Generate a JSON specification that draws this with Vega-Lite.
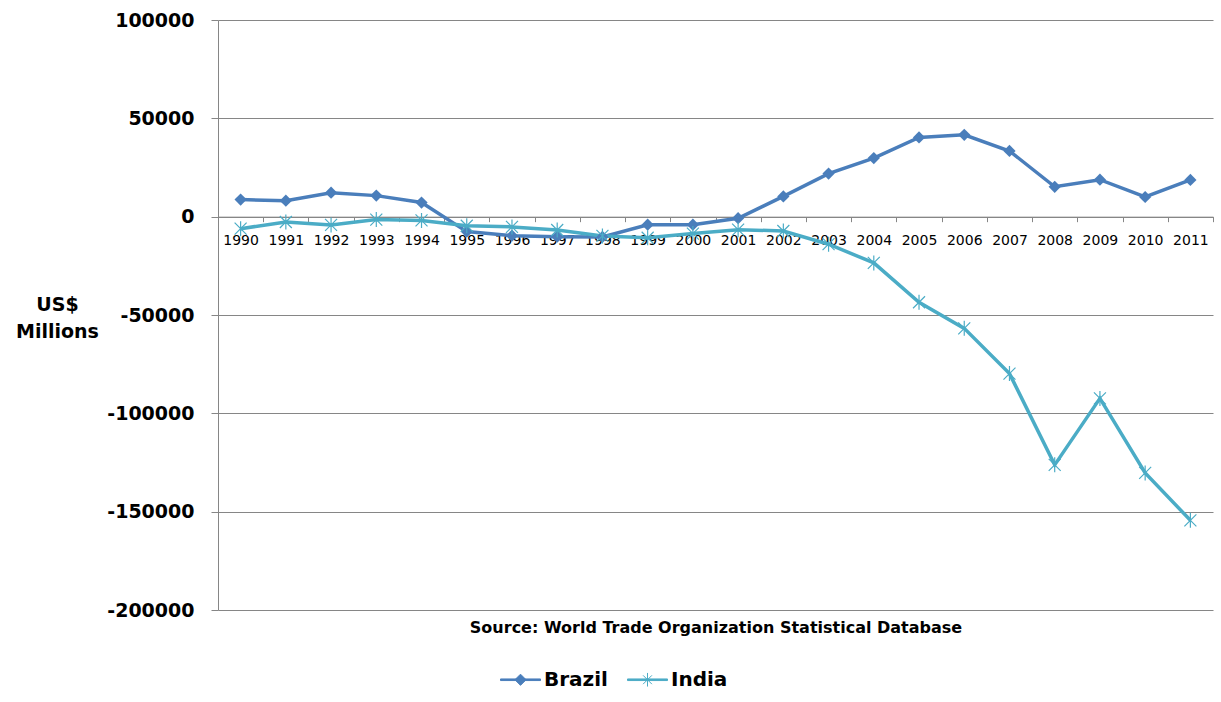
{
  "$schema": "https://vega.github.io/schema/vega-lite/v6.json",
  "width": 995,
  "height": 590,
  "autosize": {"type": "none"},
  "padding": {"left": 218, "top": 20, "right": 8, "bottom": 92},
  "background": "white",
  "config": {"view": {"stroke": null}, "font": "DejaVu Sans"},
  "data": {
    "values": [
      {"year": "1990", "country": "Brazil", "value": 8700},
      {"year": "1991", "country": "Brazil", "value": 8100},
      {"year": "1992", "country": "Brazil", "value": 12200},
      {"year": "1993", "country": "Brazil", "value": 10700},
      {"year": "1994", "country": "Brazil", "value": 7200},
      {"year": "1995", "country": "Brazil", "value": -7600},
      {"year": "1996", "country": "Brazil", "value": -9700},
      {"year": "1997", "country": "Brazil", "value": -10200},
      {"year": "1998", "country": "Brazil", "value": -10300},
      {"year": "1999", "country": "Brazil", "value": -4100},
      {"year": "2000", "country": "Brazil", "value": -4100},
      {"year": "2001", "country": "Brazil", "value": -800},
      {"year": "2002", "country": "Brazil", "value": 10300},
      {"year": "2003", "country": "Brazil", "value": 21900},
      {"year": "2004", "country": "Brazil", "value": 29800},
      {"year": "2005", "country": "Brazil", "value": 40300},
      {"year": "2006", "country": "Brazil", "value": 41600},
      {"year": "2007", "country": "Brazil", "value": 33400},
      {"year": "2008", "country": "Brazil", "value": 15200},
      {"year": "2009", "country": "Brazil", "value": 18800},
      {"year": "2010", "country": "Brazil", "value": 10000},
      {"year": "2011", "country": "Brazil", "value": 18700},
      {"year": "1990", "country": "India", "value": -6100},
      {"year": "1991", "country": "India", "value": -2700},
      {"year": "1992", "country": "India", "value": -4200},
      {"year": "1993", "country": "India", "value": -1500},
      {"year": "1994", "country": "India", "value": -1900},
      {"year": "1995", "country": "India", "value": -4600},
      {"year": "1996", "country": "India", "value": -5200},
      {"year": "1997", "country": "India", "value": -6800},
      {"year": "1998", "country": "India", "value": -9800},
      {"year": "1999", "country": "India", "value": -10700},
      {"year": "2000", "country": "India", "value": -8600},
      {"year": "2001", "country": "India", "value": -6600},
      {"year": "2002", "country": "India", "value": -7300},
      {"year": "2003", "country": "India", "value": -14000},
      {"year": "2004", "country": "India", "value": -23500},
      {"year": "2005", "country": "India", "value": -43500},
      {"year": "2006", "country": "India", "value": -56800},
      {"year": "2007", "country": "India", "value": -79800},
      {"year": "2008", "country": "India", "value": -126200},
      {"year": "2009", "country": "India", "value": -92400},
      {"year": "2010", "country": "India", "value": -130300},
      {"year": "2011", "country": "India", "value": -154400}
    ]
  },
  "encoding": {
    "y": {
      "field": "value",
      "type": "quantitative",
      "scale": {"domain": [-200000, 100000], "nice": false, "zero": false},
      "axis": {
        "title": ["US$", "Millions"],
        "titleAngle": 0,
        "titleX": -161,
        "titleY": 275,
        "titleAlign": "center",
        "titleBaseline": "top",
        "titleFontSize": 19,
        "titleFontWeight": "bold",
        "titleFont": "DejaVu Sans",
        "titleColor": "black",
        "titleLineHeight": 27,
        "values": [-200000, -150000, -100000, -50000, 0, 50000, 100000],
        "labelExpr": "datum.value + ''",
        "labelFontSize": 19,
        "labelFontWeight": "bold",
        "labelFont": "DejaVu Sans",
        "labelColor": "black",
        "labelPadding": 17,
        "tickSize": 7,
        "tickColor": "#868686",
        "domainColor": "#868686",
        "gridColor": "#868686",
        "grid": true
      }
    },
    "color": {
      "field": "country",
      "type": "nominal",
      "scale": {"domain": ["Brazil", "India"], "range": ["#4a7ebb", "#4bacc6"]},
      "legend": {
        "title": null,
        "orient": "none",
        "legendX": 282,
        "legendY": 639,
        "direction": "horizontal",
        "symbolSize": 1600,
        "labelFontSize": 20,
        "labelFontWeight": "bold",
        "labelFont": "DejaVu Sans",
        "labelColor": "black",
        "labelOffset": 3,
        "columnPadding": 17,
        "padding": 0,
        "encode": {
          "symbols": {
            "update": {
              "shape": {"signal": "datum.value === 'Brazil' ? 'M -1 -0.04 L 1 -0.04 L 1 0.04 L -1 0.04 Z M 0 -0.28 L 0.28 0 L 0 0.28 L -0.28 0 Z' : 'M -1 -0.04 L 1 -0.04 L 1 0.04 L -1 0.04 Z M -0.22 -0.22 L 0.22 0.22 M -0.22 0.22 L 0.22 -0.22 M 0 -0.34 L 0 0.34'"},
              "fill": {"signal": "datum.value === 'Brazil' ? '#4a7ebb' : '#4bacc6'"},
              "stroke": {"signal": "datum.value === 'Brazil' ? '#4a7ebb' : '#4bacc6'"},
              "strokeWidth": {"value": 1},
              "opacity": {"value": 1}
            }
          }
        }
      }
    }
  },
  "layer": [
    {
      "mark": {"type": "line", "strokeWidth": 3.5},
      "encoding": {
        "x": {
          "field": "year",
          "type": "ordinal",
          "scale": {"type": "band", "paddingInner": 0, "paddingOuter": 0},
          "axis": {
            "orient": "bottom",
            "title": null,
            "offset": -393.333,
            "tickBand": "extent",
            "domainColor": "#868686",
            "tickColor": "#868686",
            "tickSize": 5,
            "labelAngle": 0,
            "labelFontSize": 14,
            "labelFont": "DejaVu Sans",
            "labelColor": "black",
            "labelPadding": 12,
            "grid": false
          }
        }
      }
    },
    {
      "transform": [{"filter": "datum.country === 'Brazil'"}],
      "mark": {"type": "point", "shape": "diamond", "filled": true, "opacity": 1, "strokeWidth": 1, "size": 150},
      "encoding": {
        "x": {
          "field": "year",
          "type": "ordinal",
          "scale": {"type": "band", "paddingInner": 0, "paddingOuter": 0},
          "axis": {
            "orient": "bottom",
            "title": "Source: World Trade Organization Statistical Database",
            "labels": false,
            "ticks": false,
            "domain": false,
            "grid": false,
            "titlePadding": 9,
            "titleFontSize": 16,
            "titleFontWeight": "bold",
            "titleFont": "DejaVu Sans",
            "titleColor": "black"
          }
        }
      }
    },
    {
      "transform": [{"filter": "datum.country === 'India'"}],
      "mark": {"type": "point", "shape": "M -1 -1 L 1 1 M -1 1 L 1 -1 M 0 -1.25 L 0 1.25", "filled": false, "opacity": 1, "strokeWidth": 1.2, "size": 144},
      "encoding": {
        "x": {
          "field": "year",
          "type": "ordinal",
          "scale": {"type": "band", "paddingInner": 0, "paddingOuter": 0},
          "axis": null
        }
      }
    }
  ],
  "resolve": {"axis": {"x": "independent"}}
}
